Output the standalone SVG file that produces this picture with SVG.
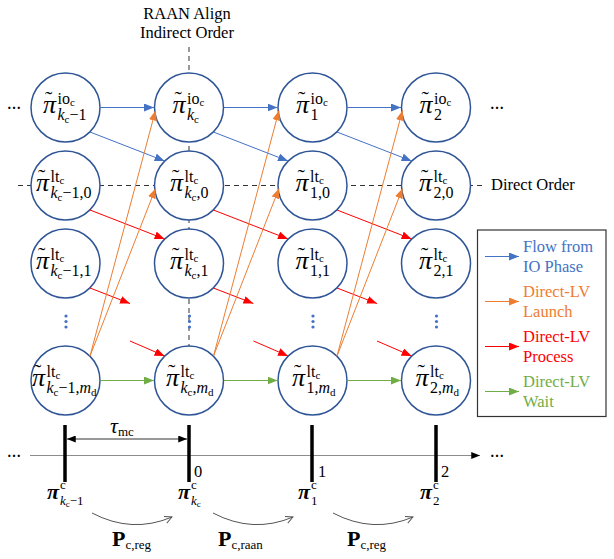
<svg xmlns="http://www.w3.org/2000/svg" width="614" height="559" viewBox="0 0 614 559" font-family="Liberation Serif, serif">
<style>
text{font-family:'Liberation Serif',serif}
.t{font-size:16.5px}
.lbl{font-size:16px}
.pi{font-size:26px;font-style:italic}
.tl{font-size:22px;font-style:normal}
.ss{font-size:11px;font-style:normal}
.s9{font-size:9px;font-style:normal}
.it{font-style:italic}
.up{font-style:normal}
.nd{fill:#fff;stroke:#2F5597;stroke-width:1.5}
.guide{stroke:#333;stroke-width:1;stroke-dasharray:5,4;fill:none}
.b{stroke:#4472C4;stroke-width:1;fill:none}
.o{stroke:#ED7D31;stroke-width:1;fill:none}
.r{stroke:#FF0000;stroke-width:1;fill:none}
.g{stroke:#70AD47;stroke-width:1;fill:none}
.bp{font-size:22px;font-weight:bold;font-style:italic}
.bP{font-size:22px;font-weight:bold}
.lb{font-size:13px}
.dots{font-size:14px;font-weight:bold}
</style>
<defs>
<marker id="mb" viewBox="0 0 10 8" refX="10" refY="4" markerWidth="10" markerHeight="8" orient="auto" markerUnits="userSpaceOnUse"><path d="M0,0 L10,4 L0,8 z" fill="#4472C4"/></marker>
<marker id="mo" viewBox="0 0 10 8" refX="10" refY="4" markerWidth="10" markerHeight="8" orient="auto" markerUnits="userSpaceOnUse"><path d="M0,0 L10,4 L0,8 z" fill="#ED7D31"/></marker>
<marker id="mr" viewBox="0 0 10 8" refX="10" refY="4" markerWidth="10" markerHeight="8" orient="auto" markerUnits="userSpaceOnUse"><path d="M0,0 L10,4 L0,8 z" fill="#FF0000"/></marker>
<marker id="mg" viewBox="0 0 10 8" refX="10" refY="4" markerWidth="10" markerHeight="8" orient="auto" markerUnits="userSpaceOnUse"><path d="M0,0 L10,4 L0,8 z" fill="#70AD47"/></marker>
<marker id="mk" viewBox="0 0 10 8" refX="10" refY="4" markerWidth="9" markerHeight="7" orient="auto-start-reverse" markerUnits="userSpaceOnUse"><path d="M0,0 L10,4 L0,8 z" fill="#000"/></marker>
<marker id="mv" viewBox="0 0 10 10" refX="9" refY="5" markerWidth="9" markerHeight="9" orient="auto" markerUnits="userSpaceOnUse"><path d="M1,1 L9,5 L1,9" fill="none" stroke="#555" stroke-width="1"/></marker>
</defs>

<g id="guides">
<line class="guide" x1="18" y1="185.5" x2="482" y2="185.5"/>
<line class="guide" x1="189" y1="47" x2="189" y2="346"/>
<text class="t" x="187" y="19" text-anchor="middle">RAAN Align</text>
<text class="t" x="187" y="38" text-anchor="middle">Indirect Order</text>
<text class="t" x="491" y="190">Direct Order</text>
<text class="dots" x="7" y="109">…</text>
<text class="dots" x="490" y="109">…</text>
<g fill="#4472C4">
<circle cx="66" cy="316" r="1.6"/><circle cx="66" cy="321.5" r="1.6"/><circle cx="66" cy="327" r="1.6"/>
<circle cx="189.5" cy="316" r="1.6"/><circle cx="189.5" cy="321.5" r="1.6"/><circle cx="189.5" cy="327" r="1.6"/>
<circle cx="313" cy="316" r="1.6"/><circle cx="313" cy="321.5" r="1.6"/><circle cx="313" cy="327" r="1.6"/>
<circle cx="436.5" cy="316" r="1.6"/><circle cx="436.5" cy="321.5" r="1.6"/><circle cx="436.5" cy="327" r="1.6"/>
</g>
</g>

<g id="nodes">
<g id="n-io-km1"><circle class="nd" cx="65.5" cy="107.5" r="34.5"/>
<text class="lbl"><tspan class="pi" x="43" y="112.5">π</tspan><tspan class="tl" x="45" y="106">˜</tspan><tspan x="57.5" y="103.5">io</tspan><tspan class="ss" dy="2">c</tspan><tspan class="it" x="57.5" y="119.5">k</tspan><tspan class="ss" dy="3">c</tspan><tspan dy="-3">−1</tspan></text></g>
<g id="n-io-k"><circle class="nd" cx="189" cy="107.5" r="34.5"/>
<text class="lbl"><tspan class="pi" x="172.5" y="112.5">π</tspan><tspan class="tl" x="174.5" y="106">˜</tspan><tspan x="187" y="103.5">io</tspan><tspan class="ss" dy="2">c</tspan><tspan class="it" x="187" y="119.5">k</tspan><tspan class="ss" dy="3">c</tspan></text></g>
<g id="n-io-1"><circle class="nd" cx="312.5" cy="107.5" r="34.5"/>
<text class="lbl"><tspan class="pi" x="296" y="112.5">π</tspan><tspan class="tl" x="298" y="106">˜</tspan><tspan x="310.5" y="103.5">io</tspan><tspan class="ss" dy="2">c</tspan><tspan x="310.5" y="119.5">1</tspan></text></g>
<g id="n-io-2"><circle class="nd" cx="436" cy="107.5" r="34.5"/>
<text class="lbl"><tspan class="pi" x="419.5" y="112.5">π</tspan><tspan class="tl" x="421.5" y="106">˜</tspan><tspan x="434" y="103.5">io</tspan><tspan class="ss" dy="2">c</tspan><tspan x="434" y="119.5">2</tspan></text></g>

<g id="n-lt-km1-0"><circle class="nd" cx="65.5" cy="185.5" r="34.5"/>
<text class="lbl"><tspan class="pi" x="36" y="190.5">π</tspan><tspan class="tl" x="38" y="184">˜</tspan><tspan x="50.5" y="181.5">lt</tspan><tspan class="ss" dy="2">c</tspan><tspan class="it" x="50.5" y="197.5">k</tspan><tspan class="ss" dy="3">c</tspan><tspan dy="-3">−1,0</tspan></text></g>
<g id="n-lt-k-0"><circle class="nd" cx="189" cy="185.5" r="34.5"/>
<text class="lbl"><tspan class="pi" x="170" y="190.5">π</tspan><tspan class="tl" x="172" y="184">˜</tspan><tspan x="184.5" y="181.5">lt</tspan><tspan class="ss" dy="2">c</tspan><tspan class="it" x="184.5" y="197.5">k</tspan><tspan class="ss" dy="3">c</tspan><tspan dy="-3">,0</tspan></text></g>
<g id="n-lt-1-0"><circle class="nd" cx="312.5" cy="185.5" r="34.5"/>
<text class="lbl"><tspan class="pi" x="295.5" y="190.5">π</tspan><tspan class="tl" x="297.5" y="184">˜</tspan><tspan x="310" y="181.5">lt</tspan><tspan class="ss" dy="2">c</tspan><tspan x="310" y="197.5">1,0</tspan></text></g>
<g id="n-lt-2-0"><circle class="nd" cx="436" cy="185.5" r="34.5"/>
<text class="lbl"><tspan class="pi" x="419" y="190.5">π</tspan><tspan class="tl" x="421" y="184">˜</tspan><tspan x="433.5" y="181.5">lt</tspan><tspan class="ss" dy="2">c</tspan><tspan x="433.5" y="197.5">2,0</tspan></text></g>

<g id="n-lt-km1-1"><circle class="nd" cx="65.5" cy="263.5" r="34.5"/>
<text class="lbl"><tspan class="pi" x="36" y="268.5">π</tspan><tspan class="tl" x="38" y="262">˜</tspan><tspan x="50.5" y="259.5">lt</tspan><tspan class="ss" dy="2">c</tspan><tspan class="it" x="50.5" y="275.5">k</tspan><tspan class="ss" dy="3">c</tspan><tspan dy="-3">−1,1</tspan></text></g>
<g id="n-lt-k-1"><circle class="nd" cx="189" cy="263.5" r="34.5"/>
<text class="lbl"><tspan class="pi" x="170" y="268.5">π</tspan><tspan class="tl" x="172" y="262">˜</tspan><tspan x="184.5" y="259.5">lt</tspan><tspan class="ss" dy="2">c</tspan><tspan class="it" x="184.5" y="275.5">k</tspan><tspan class="ss" dy="3">c</tspan><tspan dy="-3">,1</tspan></text></g>
<g id="n-lt-1-1"><circle class="nd" cx="312.5" cy="263.5" r="34.5"/>
<text class="lbl"><tspan class="pi" x="295.5" y="268.5">π</tspan><tspan class="tl" x="297.5" y="262">˜</tspan><tspan x="310" y="259.5">lt</tspan><tspan class="ss" dy="2">c</tspan><tspan x="310" y="275.5">1,1</tspan></text></g>
<g id="n-lt-2-1"><circle class="nd" cx="436" cy="263.5" r="34.5"/>
<text class="lbl"><tspan class="pi" x="419" y="268.5">π</tspan><tspan class="tl" x="421" y="262">˜</tspan><tspan x="433.5" y="259.5">lt</tspan><tspan class="ss" dy="2">c</tspan><tspan x="433.5" y="275.5">2,1</tspan></text></g>

<g id="n-lt-km1-md"><circle class="nd" cx="65.5" cy="380.5" r="34.5"/>
<text class="lbl"><tspan class="pi" x="32" y="385.5">π</tspan><tspan class="tl" x="34" y="379">˜</tspan><tspan x="46.5" y="376.5">lt</tspan><tspan class="ss" dy="2">c</tspan><tspan class="it" x="46.5" y="392.5">k</tspan><tspan class="ss" dy="3">c</tspan><tspan dy="-3">−1,</tspan><tspan class="it">m</tspan><tspan class="ss" dy="3">d</tspan></text></g>
<g id="n-lt-k-md"><circle class="nd" cx="189" cy="380.5" r="34.5"/>
<text class="lbl"><tspan class="pi" x="166" y="385.5">π</tspan><tspan class="tl" x="168" y="379">˜</tspan><tspan x="180.5" y="376.5">lt</tspan><tspan class="ss" dy="2">c</tspan><tspan class="it" x="180.5" y="392.5">k</tspan><tspan class="ss" dy="3">c</tspan><tspan dy="-3">,</tspan><tspan class="it">m</tspan><tspan class="ss" dy="3">d</tspan></text></g>
<g id="n-lt-1-md"><circle class="nd" cx="312.5" cy="380.5" r="34.5"/>
<text class="lbl"><tspan class="pi" x="292" y="385.5">π</tspan><tspan class="tl" x="294" y="379">˜</tspan><tspan x="306.5" y="376.5">lt</tspan><tspan class="ss" dy="2">c</tspan><tspan x="306.5" y="392.5">1,</tspan><tspan class="it">m</tspan><tspan class="ss" dy="3">d</tspan></text></g>
<g id="n-lt-2-md"><circle class="nd" cx="436" cy="380.5" r="34.5"/>
<text class="lbl"><tspan class="pi" x="415.5" y="385.5">π</tspan><tspan class="tl" x="417.5" y="379">˜</tspan><tspan x="430" y="376.5">lt</tspan><tspan class="ss" dy="2">c</tspan><tspan x="430" y="392.5">2,</tspan><tspan class="it">m</tspan><tspan class="ss" dy="3">d</tspan></text></g>
</g>

<g id="connectors">
<line class="b" x1="100.5" y1="107.5" x2="154" y2="107.5" marker-end="url(#mb)"/>
<line class="b" x1="224" y1="107.5" x2="277.5" y2="107.5" marker-end="url(#mb)"/>
<line class="b" x1="347.5" y1="107.5" x2="401" y2="107.5" marker-end="url(#mb)"/>
<line class="b" x1="90" y1="132" x2="164.6" y2="161" marker-end="url(#mb)"/>
<line class="b" x1="213.4" y1="132" x2="288" y2="161" marker-end="url(#mb)"/>
<line class="b" x1="337" y1="132" x2="411.6" y2="161" marker-end="url(#mb)"/>
<line class="r" x1="90" y1="210" x2="164.6" y2="239" marker-end="url(#mr)"/>
<line class="r" x1="213.4" y1="210" x2="288" y2="239" marker-end="url(#mr)"/>
<line class="r" x1="337" y1="210" x2="411.6" y2="239" marker-end="url(#mr)"/>
<line class="r" x1="90" y1="288" x2="130" y2="303.5" marker-end="url(#mr)"/>
<line class="r" x1="213.4" y1="288" x2="253.4" y2="303.5" marker-end="url(#mr)"/>
<line class="r" x1="337" y1="288" x2="377" y2="303.5" marker-end="url(#mr)"/>
<line class="r" x1="130" y1="341" x2="164.6" y2="356" marker-end="url(#mr)"/>
<line class="r" x1="253.5" y1="341" x2="288" y2="356" marker-end="url(#mr)"/>
<line class="r" x1="377" y1="341" x2="411.6" y2="356" marker-end="url(#mr)"/>
<line class="o" x1="90" y1="356" x2="155.5" y2="110.5" marker-end="url(#mo)"/>
<line class="o" x1="90" y1="356" x2="155.5" y2="188.5" marker-end="url(#mo)"/>
<line class="o" x1="213.5" y1="356" x2="279" y2="110.5" marker-end="url(#mo)"/>
<line class="o" x1="213.5" y1="356" x2="279" y2="188.5" marker-end="url(#mo)"/>
<line class="o" x1="337" y1="356" x2="402.5" y2="110.5" marker-end="url(#mo)"/>
<line class="o" x1="337" y1="356" x2="402.5" y2="188.5" marker-end="url(#mo)"/>
<line class="g" x1="100.5" y1="380.5" x2="154" y2="380.5" marker-end="url(#mg)"/>
<line class="g" x1="224" y1="380.5" x2="277.5" y2="380.5" marker-end="url(#mg)"/>
<line class="g" x1="347.5" y1="380.5" x2="401" y2="380.5" marker-end="url(#mg)"/>
</g>

<g id="legend">
<rect x="477.5" y="230" width="128.5" height="186.5" fill="#fff" stroke="#333" stroke-width="1.2"/>
<line class="b" x1="485" y1="256.5" x2="519" y2="256.5" marker-end="url(#mb)"/>
<line class="o" x1="485" y1="301.5" x2="519" y2="301.5" marker-end="url(#mo)"/>
<line class="r" x1="485" y1="346.5" x2="519" y2="346.5" marker-end="url(#mr)"/>
<line class="g" x1="485" y1="391.5" x2="519" y2="391.5" marker-end="url(#mg)"/>
<text class="t" x="523" y="252" fill="#4472C4">Flow from</text>
<text class="t" x="523" y="272" fill="#4472C4">IO Phase</text>
<text class="t" x="523" y="297" fill="#ED7D31">Direct-LV</text>
<text class="t" x="523" y="317" fill="#ED7D31">Launch</text>
<text class="t" x="523" y="342" fill="#FF0000">Direct-LV</text>
<text class="t" x="523" y="362" fill="#FF0000">Process</text>
<text class="t" x="523" y="387" fill="#70AD47">Direct-LV</text>
<text class="t" x="523" y="407" fill="#70AD47">Wait</text>
</g>

<g id="timeline">
<line x1="30" y1="455.5" x2="480" y2="455.5" stroke="#8c8c8c" stroke-width="1.2" marker-end="url(#mk)"/>
<text class="dots" x="7" y="457">…</text>
<text class="dots" x="490" y="457">…</text>
<g stroke="#000" stroke-width="3.5">
<line x1="65" y1="425" x2="65" y2="482"/>
<line x1="189" y1="425" x2="189" y2="482"/>
<line x1="312" y1="425" x2="312" y2="482"/>
<line x1="436" y1="425" x2="436" y2="482"/>
</g>
<line x1="67" y1="439" x2="187" y2="439" stroke="#333" stroke-width="1" marker-start="url(#mk)" marker-end="url(#mk)"/>
<text class="lb" x="110" y="433"><tspan font-size="22" font-style="italic">τ</tspan><tspan dy="3">mc</tspan></text>
<text class="t" x="194" y="477">0</text>
<text class="t" x="318" y="477">1</text>
<text class="t" x="441" y="477">2</text>
<text class="lb"><tspan class="bp" x="47" y="499">π</tspan><tspan x="60" y="489">c</tspan><tspan class="it" x="60" y="505">k</tspan><tspan class="s9" dy="2">c</tspan><tspan dy="-2">−1</tspan></text>
<text class="lb"><tspan class="bp" x="178" y="499">π</tspan><tspan x="191" y="489">c</tspan><tspan class="it" x="191" y="505">k</tspan><tspan class="s9" dy="2">c</tspan></text>
<text class="lb"><tspan class="bp" x="298" y="499">π</tspan><tspan x="311" y="489">c</tspan><tspan x="311" y="505">1</tspan></text>
<text class="lb"><tspan class="bp" x="420" y="499">π</tspan><tspan x="433" y="489">c</tspan><tspan x="433" y="505">2</tspan></text>
<path d="M92,513 Q132,534 172,517" fill="none" stroke="#555" stroke-width="1" marker-end="url(#mv)"/>
<path d="M213,513 Q253,534 293,517" fill="none" stroke="#555" stroke-width="1" marker-end="url(#mv)"/>
<path d="M333,513 Q373,534 413,517" fill="none" stroke="#555" stroke-width="1" marker-end="url(#mv)"/>
<text class="lb" x="112" y="546"><tspan class="bP">P</tspan><tspan dy="3">c,reg</tspan></text>
<text class="lb" x="218" y="546"><tspan class="bP">P</tspan><tspan dy="3">c,raan</tspan></text>
<text class="lb" x="347" y="546"><tspan class="bP">P</tspan><tspan dy="3">c,reg</tspan></text>
</g>
</svg>
